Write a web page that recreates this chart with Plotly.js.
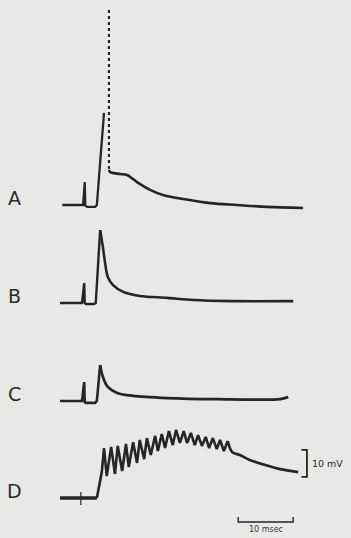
<!DOCTYPE html>
<html>
<head>
<meta charset="utf-8">
<script src="https://cdn.plot.ly/plotly-3.0.1.min.js"></script>
<style>
html,body{margin:0;padding:0;background:#e8e8e6;}
#chart{width:351px;height:538px;}
</style>
</head>
<body>
<div id="chart"></div>
<script>
// Time in ms, potential in mV (relative to each trace's resting baseline)
const labels = ["A", "B", "C", "D"];

const tA = [0.4, 4.2, 4.5, 4.6, 4.9, 6.4, 6.7, 8.0];
const vA = [0, 0, 8.5, -0.2, -0.7, -0.7, 0, 34.1];
const tA_spike = [8.9, 8.9];
const vA_spike = [72.2, 13.0];
const tA_decay = [8.9, 9.1, 9.5, 10.9, 12.2, 14.0, 16.4, 18.7, 22.4, 27.3, 32.2, 37.6, 44.2];
const vA_decay = [13.0, 12.2, 11.9, 11.5, 11.1, 8.5, 5.6, 3.7, 2.2, 0.7, 0, -0.7, -1.1];

const tB = [0, 4.0, 4.4, 4.5, 4.7, 6.2, 6.5, 7.3];
const vB = [0, 0, 7.4, 0, -0.4, -0.4, 0, 27.0];
const tB_decay = [7.3, 7.8, 8.2, 8.7, 9.6, 11.5, 14.5, 19.5, 24.2, 31.5, 42.4];
const vB_decay = [27.0, 20.7, 14.8, 9.6, 6.7, 4.1, 2.6, 1.9, 1.1, 0.7, 0.7];

const tC = [0, 4.0, 4.4, 4.5, 4.7, 6.4, 6.7, 7.3];
const vC = [0, 0, 7.0, -0.4, -0.7, -0.7, 0, 13.3];
const tC_decay = [7.3, 7.8, 8.7, 10.4, 13.3, 19.5, 28.5, 40.0, 41.5];
const vC_decay = [13.3, 8.9, 5.2, 3.0, 1.9, 1.1, 0.7, 0.7, 1.5];

const tD_base = [0, 6.7];
const vD_base = [0, 0];
const tD = [6.7, 7.6, 8.0, 8.5, 9.3, 10.0, 10.5, 11.3, 12.0, 12.5, 13.3, 14.0, 14.5, 15.3, 15.8, 16.5, 17.3, 17.8, 18.5, 19.1, 19.8, 20.5, 21.1, 21.8, 22.5, 23.1, 23.8, 24.5, 25.1, 25.8, 26.5, 27.1, 27.8, 28.5, 29.1, 29.8, 30.5];
const vD = [0, 9.6, 18.5, 8.1, 18.9, 8.9, 19.3, 10.0, 20.0, 11.5, 20.7, 13.0, 21.5, 14.4, 22.2, 15.9, 23.0, 17.4, 23.7, 18.5, 24.8, 19.6, 25.2, 20.4, 24.8, 20.4, 24.1, 19.6, 23.3, 19.3, 22.6, 18.5, 22.2, 18.1, 21.5, 17.4, 21.1];
const tD_decay = [30.5, 31.3, 32.7, 34.5, 37.3, 40.0, 43.3];
const vD_decay = [21.1, 17.0, 15.9, 14.1, 12.2, 10.7, 9.6];

// scale bars: 10 mV, 10 msec
const scaleV_t = [43.9, 44.9, 44.9, 43.9];
const scaleV_v = [17.8, 17.8, 7.8, 7.8];
const scaleT_t = [32.4, 32.4, 42.4, 42.4];
const scaleT_v = [-7.0, -8.9, -8.9, -7.0];
const scaleTexts = ["10 mV", "10 msec"];

// layout config (vertical placement of each record)
const offsets = [123.33, 87.04, 50.74, 14.81];
const ink = "#252525";

function sh(arr, off) { return arr.map(v => v + off); }
function line(t, v, off, w, dash, shape) {
  return {x: t, y: sh(v, off), mode: "lines", type: "scatter", hoverinfo: "skip",
    line: {color: ink, width: w, dash: dash || "solid", shape: shape || "linear", smoothing: 0.9},
    showlegend: false};
}

const data = [
  line(tA, vA, offsets[0], 2.3),
  line(tA_spike, vA_spike, offsets[0], 2.2, "dot"),
  line(tA_decay, vA_decay, offsets[0], 2.6, "solid", "spline"),
  line(tB, vB, offsets[1], 2.4),
  line(tB_decay, vB_decay, offsets[1], 2.6, "solid", "spline"),
  line(tC, vC, offsets[2], 2.6),
  line(tC_decay, vC_decay, offsets[2], 2.7, "solid", "spline"),
  line(tD_base, vD_base, offsets[3], 3.6),
  line(tD, vD, offsets[3], 2.6),
  line(tD_decay, vD_decay, offsets[3], 2.7, "solid", "spline"),
  line([3.8, 3.8], [2.2, -2.6], offsets[3], 1.2),
  line(scaleV_t, scaleV_v, offsets[3], 1.8),
  line(scaleT_t, scaleT_v, offsets[3], 1.4)
];

const annotations = labels.map((l, i) => ({
  x: -8.2, y: offsets[i] + 2.6, xref: "x", yref: "y", text: l, showarrow: false,
  font: {family: "DejaVu Sans", size: 19, color: "#2a2a2a"}, xanchor: "center", yanchor: "middle"
}));
annotations.push({x: 45.5, y: offsets[3] + 12.8, xref: "x", yref: "y", text: scaleTexts[0], showarrow: false,
  font: {family: "DejaVu Sans", size: 9.5, color: "#2a2a2a"}, xanchor: "left", yanchor: "middle"});
annotations.push({x: 37.4, y: offsets[3] - 11.8, xref: "x", yref: "y", text: scaleTexts[1], showarrow: false,
  font: {family: "DejaVu Sans", size: 8, color: "#3a3a3a"}, xanchor: "center", yanchor: "middle"});

const layout = {
  width: 351, height: 538,
  margin: {l: 0, r: 0, t: 0, b: 0, pad: 0},
  paper_bgcolor: "#e8e8e6", plot_bgcolor: "#e8e8e6",
  xaxis: {range: [-10.909, 52.909], visible: false, fixedrange: true},
  yaxis: {range: [0, 199.26], visible: false, fixedrange: true},
  annotations: annotations,
  showlegend: false
};

Plotly.newPlot("chart", data, layout, {staticPlot: true, displayModeBar: false});
</script>
</body>
</html>
